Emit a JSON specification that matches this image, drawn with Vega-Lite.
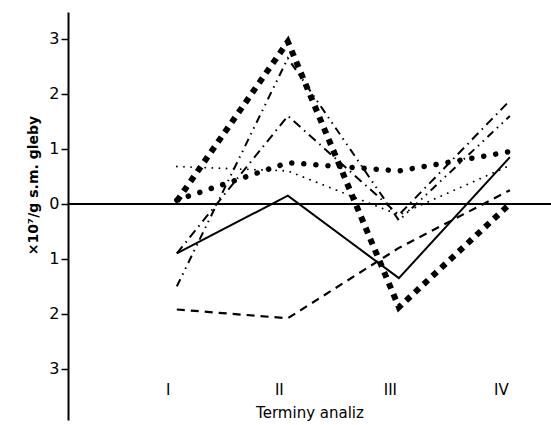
{
  "$schema": "https://vega.github.io/schema/vega-lite/v6.json",
  "width": 483,
  "height": 408,
  "autosize": {"type": "none"},
  "padding": {"left": 68, "top": 12, "right": 0, "bottom": 5},
  "background": "white",
  "config": {"view": {"stroke": null}, "font": "DejaVu Sans"},
  "data": {"values": [
    {"s": "solid", "t": 1, "v": -0.9}, {"s": "solid", "t": 2, "v": 0.15}, {"s": "solid", "t": 3, "v": -1.35}, {"s": "solid", "t": 4, "v": 0.85},
    {"s": "dash", "t": 1, "v": -1.92}, {"s": "dash", "t": 2, "v": -2.08}, {"s": "dash", "t": 3, "v": -0.8}, {"s": "dash", "t": 4, "v": 0.25},
    {"s": "square", "t": 1, "v": 0.05}, {"s": "square", "t": 2, "v": 2.95}, {"s": "square", "t": 3, "v": -1.88}, {"s": "square", "t": 4, "v": 0.0},
    {"s": "tri", "t": 1, "v": 0.07}, {"s": "tri", "t": 2, "v": 0.75}, {"s": "tri", "t": 3, "v": 0.6}, {"s": "tri", "t": 4, "v": 0.95},
    {"s": "dot", "t": 1, "v": 0.68}, {"s": "dot", "t": 2, "v": 0.6}, {"s": "dot", "t": 3, "v": -0.2}, {"s": "dot", "t": 4, "v": 0.7},
    {"s": "dashdotdot", "t": 1, "v": -1.5}, {"s": "dashdotdot", "t": 2, "v": 2.65}, {"s": "dashdotdot", "t": 3, "v": -0.3}, {"s": "dashdotdot", "t": 4, "v": 1.6},
    {"s": "dashdot", "t": 1, "v": -0.9}, {"s": "dashdot", "t": 2, "v": 1.6}, {"s": "dashdot", "t": 3, "v": -0.2}, {"s": "dashdot", "t": 4, "v": 1.88}
  ]},
  "encoding": {
    "x": {"field": "t", "type": "quantitative", "scale": {"domain": [0.02, 4.37], "nice": false, "zero": false},
      "axis": {"orient": "bottom", "offset": -40, "domain": false, "ticks": false, "grid": false, "values": [1, 2, 3, 4],
        "labelExpr": "['I','II','III','IV'][datum.value-1]", "labelFontSize": 15, "labelColor": "black", "labelPadding": 2, "labelOffset": -9,
        "title": "Terminy analiz", "titleFontSize": 15, "titleFontWeight": "normal", "titleColor": "black", "titlePadding": 8}},
    "y": {"field": "v", "type": "quantitative", "scale": {"domain": [-3.93, 3.49], "nice": false, "zero": false},
      "axis": {"values": [-3, -2, -1, 0, 1, 2, 3], "labelExpr": "abs(datum.value)", "grid": false, "domainWidth": 2, "domainColor": "black",
        "tickColor": "black", "tickWidth": 1.5, "tickSize": 7, "labelFontSize": 16, "labelColor": "black", "labelPadding": 2,
        "title": "×10⁷/g s.m. gleby", "titleFontSize": 14, "titleFontWeight": "bold", "titleColor": "black", "titleY": 173, "titlePadding": 8}}
  },
  "layer": [
    {"mark": {"type": "rule", "color": "black", "strokeWidth": 2}, "encoding": {"y": {"datum": 0}, "x": {"value": 0}, "x2": {"value": 483}}},
    {"data": {"values": [{"t": 1}, {"t": 2}, {"t": 3}, {"t": 4}]}, "mark": {"type": "rule", "color": "black", "strokeWidth": 1.5},
      "encoding": {"x": {"field": "t", "type": "quantitative"}, "y": {"datum": 0}, "y2": {"datum": -0.22}}},
    {"transform": [{"filter": "datum.s == 'solid'"}], "mark": {"type": "line", "color": "black", "strokeWidth": 2}},
    {"transform": [{"filter": "datum.s == 'dash'"}], "mark": {"type": "line", "color": "black", "strokeWidth": 2.2, "strokeDash": [8, 6]}},
    {"transform": [{"filter": "datum.s == 'square'"}], "mark": {"type": "line", "color": "black", "strokeWidth": 6, "strokeCap": "butt", "strokeDash": [6, 6]}},
    {"transform": [{"filter": "datum.s == 'tri'"}], "mark": {"type": "line", "color": "black", "strokeWidth": 5.5, "strokeCap": "round", "strokeDash": [0.1, 12]}},
    {"transform": [{"filter": "datum.s == 'dot'"}], "mark": {"type": "line", "color": "black", "strokeWidth": 1.8, "strokeCap": "round", "strokeDash": [0.1, 7]}},
    {"transform": [{"filter": "datum.s == 'dashdotdot'"}], "mark": {"type": "line", "color": "black", "strokeWidth": 2, "strokeDash": [8, 5, 1.5, 5, 1.5, 5]}},
    {"transform": [{"filter": "datum.s == 'dashdot'"}], "mark": {"type": "line", "color": "black", "strokeWidth": 2, "strokeDash": [9, 5, 1.5, 5]}}
  ]
}
